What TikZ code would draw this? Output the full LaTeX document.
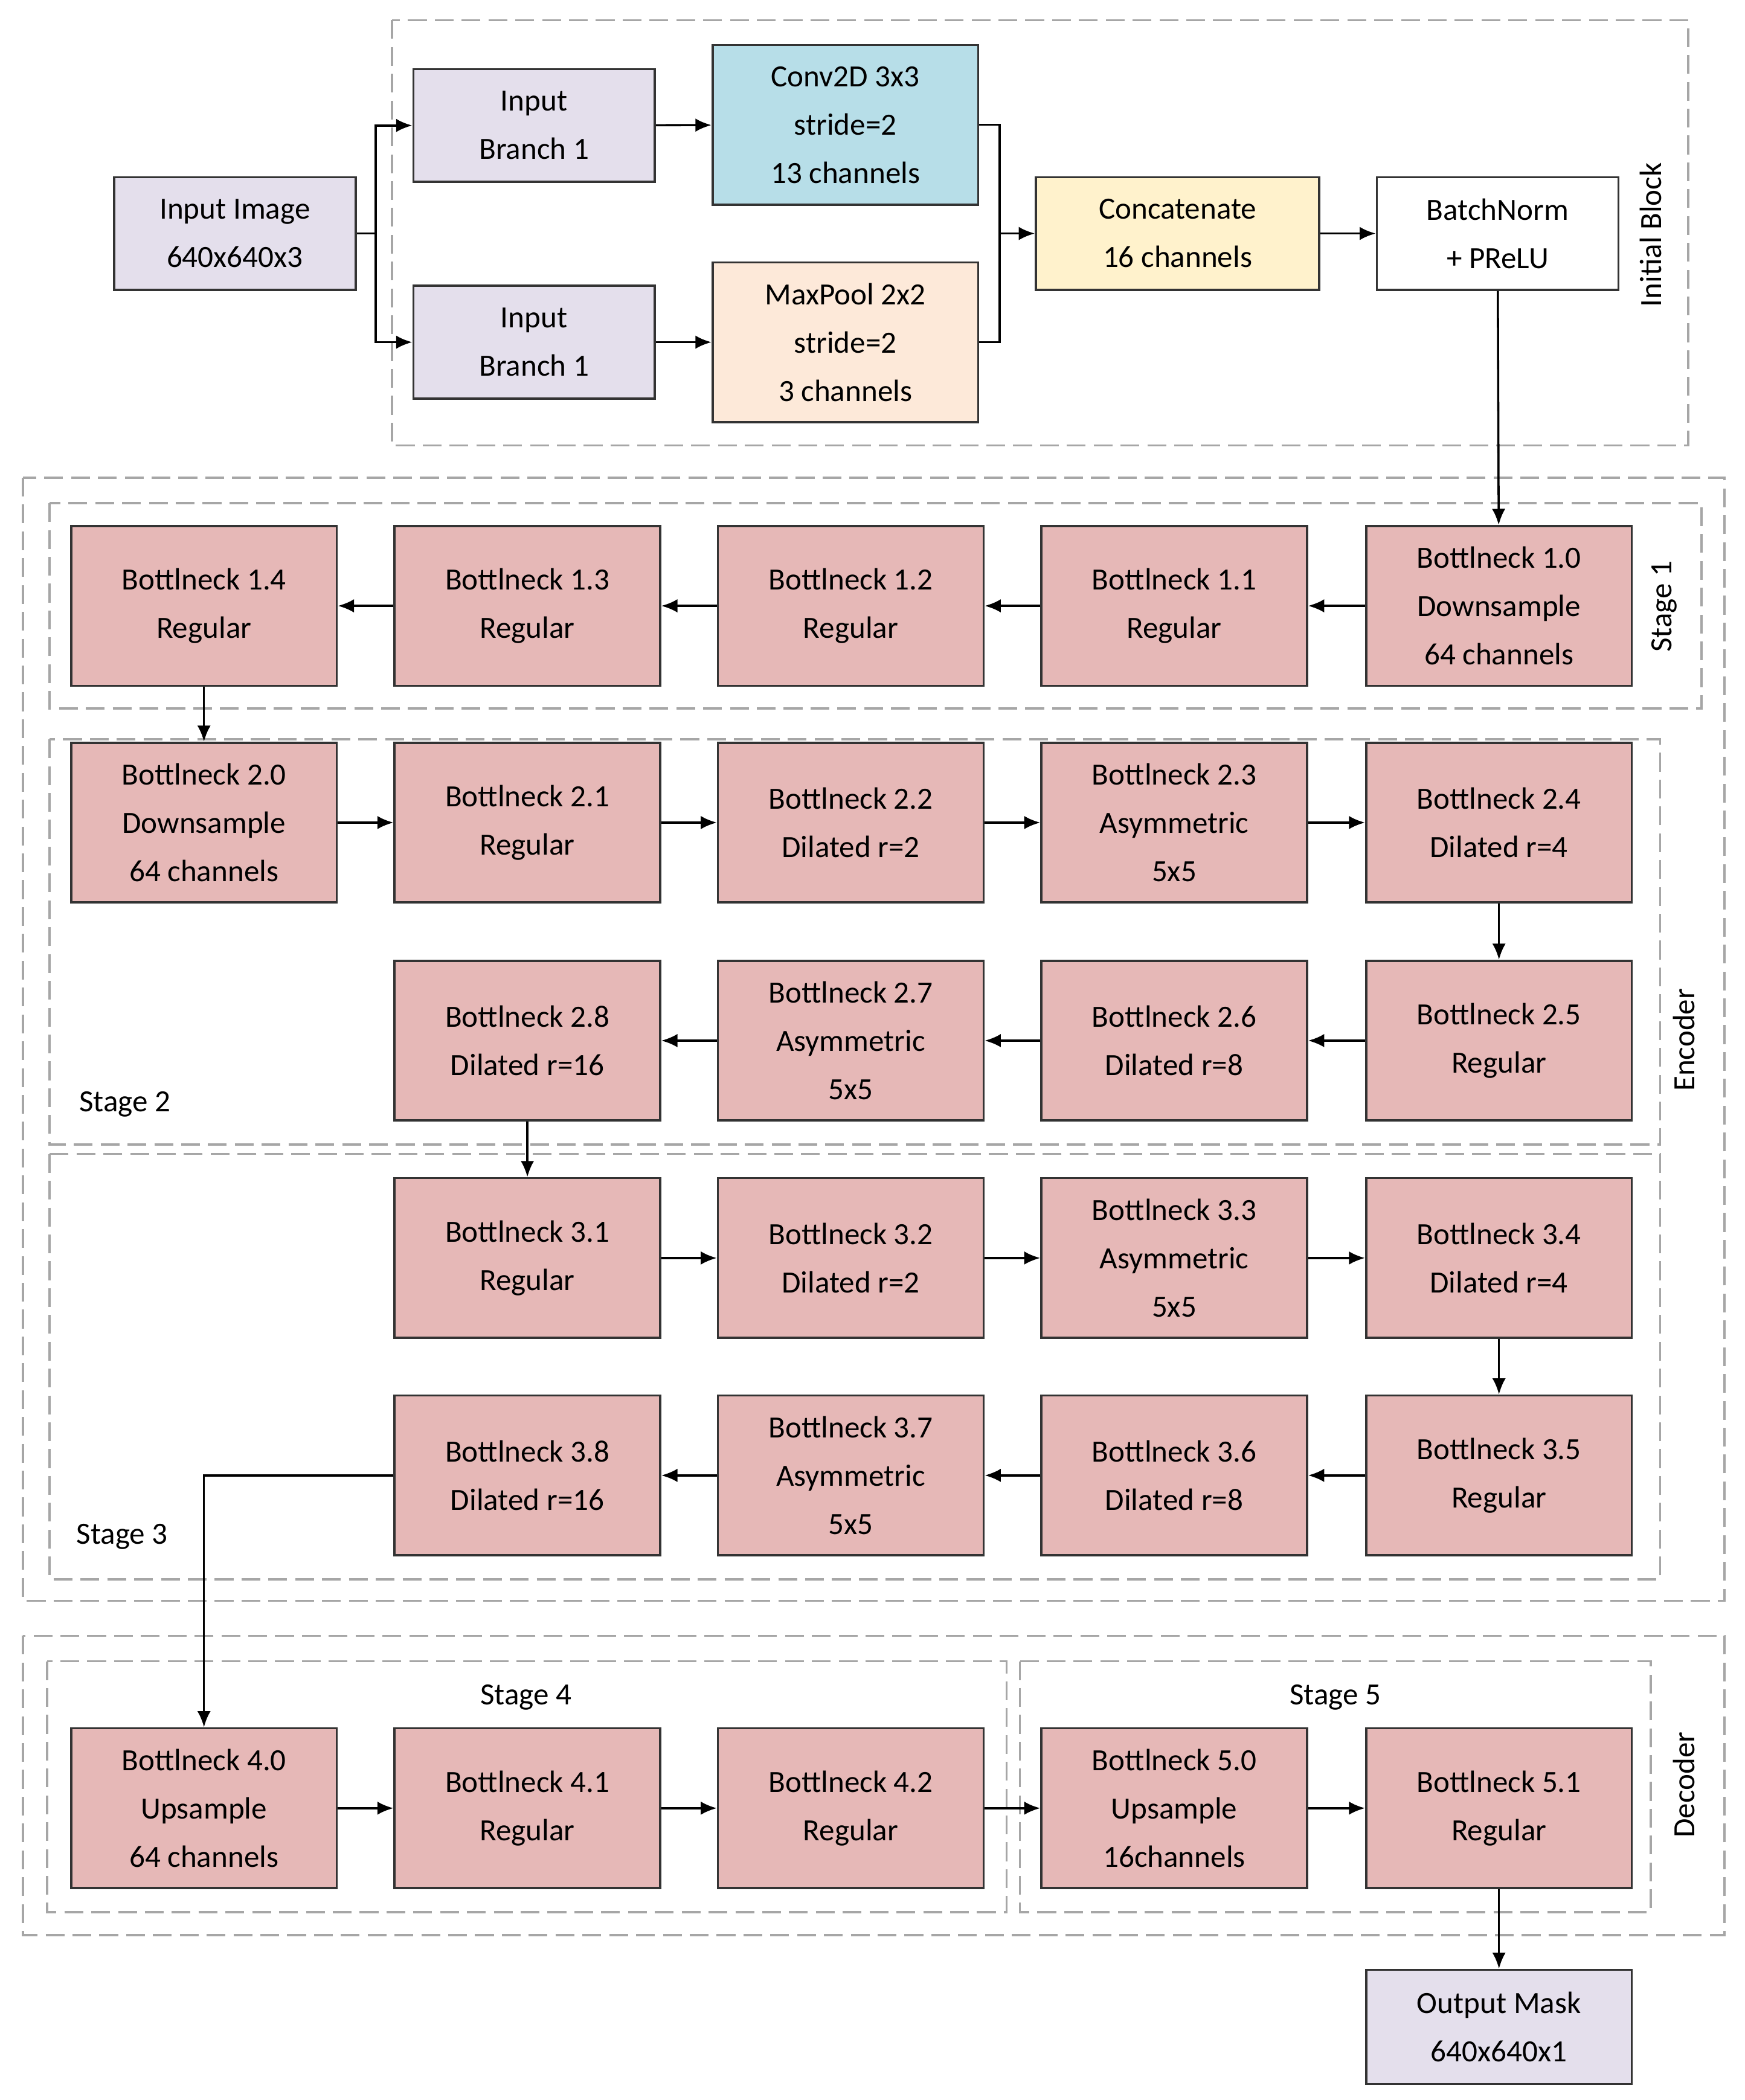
\documentclass[tikz,border=0pt]{standalone}
\usepackage{fontspec}
\setmainfont{Carlito}
\usetikzlibrary{arrows.meta}
\definecolor{bnk}{HTML}{E6B8B7}
\definecolor{lav}{HTML}{E4DFEC}
\definecolor{cblue}{HTML}{B7DEE8}
\definecolor{mpool}{HTML}{FDE9D9}
\definecolor{ccat}{HTML}{FFF2CC}
\definecolor{dsh}{HTML}{A6A6A6}
\begin{document}
\begin{tikzpicture}[x=0.5pt,y=-0.5pt,
  box/.style={draw=black!80, line width=0.8pt, align=center, inner sep=0pt,
    font=\fontsize{11.5}{18}\selectfont},
  blk/.style={box, fill=bnk, minimum width=99pt, minimum height=59.5pt},
  small/.style={box, minimum width=90pt, minimum height=42pt},
  grp/.style={draw=dsh, dashed, dash pattern=on 7pt off 3pt, line width=0.8pt},
  lbl/.style={font=\fontsize{11.5}{14}\selectfont},
  arr/.style={-{Latex[length=6pt,width=5pt]}, line width=0.8pt}]
\useasboundingbox (0,0) rectangle (1300,1565);

% dashed groups
\draw[grp] (292,15) rectangle (1258,332);
\draw[grp] (17,356) rectangle (1285,1193);
\draw[grp] (37,375) rectangle (1268,528);
\draw[grp] (37,551) rectangle (1237,853);
\draw[grp] (37,860) rectangle (1237,1177);
\draw[grp] (17,1219) rectangle (1285,1442);
\draw[grp] (35,1238) rectangle (750,1425);
\draw[grp] (760,1238) rectangle (1230,1425);

\node[lbl, rotate=90] (linit) at (1230,175) {Initial Block};
\node[lbl, rotate=90] (lenc) at (1255,775) {Encoder};
\node[lbl, rotate=90] (ls1) at (1240,452) {Stage 1};
\node[lbl] (ls2) at (93,823) {Stage 2};
\node[lbl] (ls3) at (91,1145) {Stage 3};
\node[lbl, rotate=90] (ldec) at (1255,1330) {Decoder};
\node[lbl] (ls4) at (392,1265) {Stage 4};
\node[lbl] (ls5) at (995,1265) {Stage 5};

% initial block
\node[small, fill=lav] (img) at (175,174) {Input Image\\640x640x3};
\node[small, fill=lav] (br1) at (398,93.5) {Input\\Branch 1};
\node[small, fill=lav] (br2) at (398,255) {Input\\Branch 1};
\node[blk, fill=cblue] (conv) at (630,93) {Conv2D 3x3\\stride=2\\13 channels};
\node[blk, fill=mpool] (pool) at (630,255) {MaxPool 2x2\\stride=2\\3 channels};
\node[small, fill=ccat, minimum width=105.5pt] (cat) at (877.5,174) {Concatenate\\16 channels};
\node[small, fill=white] (bn) at (1116,174) {BatchNorm\\+ PReLU};

\coordinate (split) at (280,174);
\coordinate (merge) at (745,174);
\draw[line width=0.8pt] (img.east) -- (split);
\draw[arr] (split) |- (br1.west);
\draw[arr] (split) |- (br2.west);
\draw[arr] (br1) -- (conv);
\draw[arr] (br2) -- (pool);
\draw[line width=0.8pt] (conv.east) -| (merge);
\draw[line width=0.8pt] (pool.east) -| (merge);
\draw[arr] (merge) -- (cat.west);
\draw[arr] (cat) -- (bn);

% stage 1
\node[blk] (b10) at (1117,451.5) {Bottlneck 1.0\\Downsample\\64 channels};
\node[blk] (b11) at (875,451.5) {Bottlneck 1.1\\Regular};
\node[blk] (b12) at (634,451.5) {Bottlneck 1.2\\Regular};
\node[blk] (b13) at (393,451.5) {Bottlneck 1.3\\Regular};
\node[blk] (b14) at (152,451.5) {Bottlneck 1.4\\Regular};
% stage 2
\node[blk] (b20) at (152,613) {Bottlneck 2.0\\Downsample\\64 channels};
\node[blk] (b21) at (393,613) {Bottlneck 2.1\\Regular};
\node[blk] (b22) at (634,613) {Bottlneck 2.2\\Dilated r=2};
\node[blk] (b23) at (875,613) {Bottlneck 2.3\\Asymmetric\\5x5};
\node[blk] (b24) at (1117,613) {Bottlneck 2.4\\Dilated r=4};
\node[blk] (b25) at (1117,775.5) {Bottlneck 2.5\\Regular};
\node[blk] (b26) at (875,775.5) {Bottlneck 2.6\\Dilated r=8};
\node[blk] (b27) at (634,775.5) {Bottlneck 2.7\\Asymmetric\\5x5};
\node[blk] (b28) at (393,775.5) {Bottlneck 2.8\\Dilated r=16};
% stage 3
\node[blk] (b31) at (393,937.5) {Bottlneck 3.1\\Regular};
\node[blk] (b32) at (634,937.5) {Bottlneck 3.2\\Dilated r=2};
\node[blk] (b33) at (875,937.5) {Bottlneck 3.3\\Asymmetric\\5x5};
\node[blk] (b34) at (1117,937.5) {Bottlneck 3.4\\Dilated r=4};
\node[blk] (b35) at (1117,1099.5) {Bottlneck 3.5\\Regular};
\node[blk] (b36) at (875,1099.5) {Bottlneck 3.6\\Dilated r=8};
\node[blk] (b37) at (634,1099.5) {Bottlneck 3.7\\Asymmetric\\5x5};
\node[blk] (b38) at (393,1099.5) {Bottlneck 3.8\\Dilated r=16};
% decoder
\node[blk] (b40) at (152,1347.5) {Bottlneck 4.0\\Upsample\\64 channels};
\node[blk] (b41) at (393,1347.5) {Bottlneck 4.1\\Regular};
\node[blk] (b42) at (634,1347.5) {Bottlneck 4.2\\Regular};
\node[blk] (b50) at (875,1347.5) {Bottlneck 5.0\\Upsample\\16channels};
\node[blk] (b51) at (1117,1347.5) {Bottlneck 5.1\\Regular};
\node[blk, fill=lav, minimum height=42.5pt] (out) at (1117,1510.5) {Output Mask\\640x640x1};

\draw[arr] (bn) -- (b10);
\draw[arr] (b10) -- (b11);
\draw[arr] (b11) -- (b12);
\draw[arr] (b12) -- (b13);
\draw[arr] (b13) -- (b14);
\draw[arr] (b14) -- (b20);
\draw[arr] (b20) -- (b21);
\draw[arr] (b21) -- (b22);
\draw[arr] (b22) -- (b23);
\draw[arr] (b23) -- (b24);
\draw[arr] (b24) -- (b25);
\draw[arr] (b25) -- (b26);
\draw[arr] (b26) -- (b27);
\draw[arr] (b27) -- (b28);
\draw[arr] (b28) -- (b31);
\draw[arr] (b31) -- (b32);
\draw[arr] (b32) -- (b33);
\draw[arr] (b33) -- (b34);
\draw[arr] (b34) -- (b35);
\draw[arr] (b35) -- (b36);
\draw[arr] (b36) -- (b37);
\draw[arr] (b37) -- (b38);
\draw[arr] (b38.west) -| (b40.north);
\draw[arr] (b40) -- (b41);
\draw[arr] (b41) -- (b42);
\draw[arr] (b42) -- (b50);
\draw[arr] (b50) -- (b51);
\draw[arr] (b51) -- (out);
\end{tikzpicture}
\end{document}
